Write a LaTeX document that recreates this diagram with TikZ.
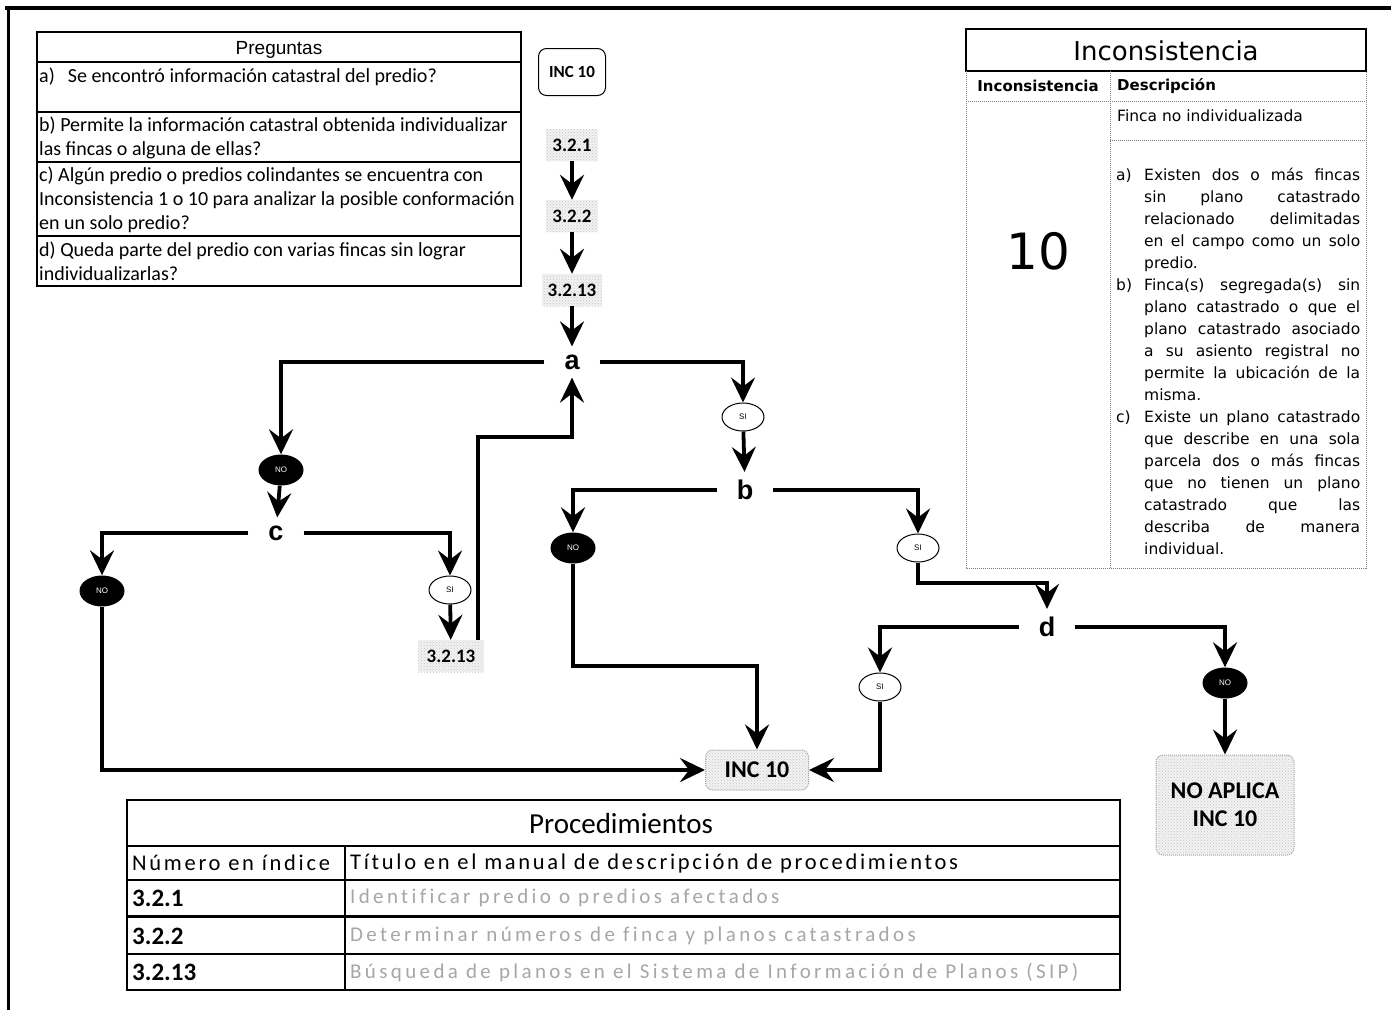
\documentclass[tikz,border=0pt]{standalone}
\usepackage{fontspec}
\setmainfont{Carlito}
\newfontfamily\verdana{DejaVu Sans}
\newfontfamily\arial{Liberation Sans}
\usetikzlibrary{arrows.meta,shapes.geometric,patterns}

\tikzset{
  flecha/.style={line width=3.8pt, -{Stealth[length=25pt,width=24pt,inset=9pt]}},
  pregunta/.style={font=\fontsize{27}{27}\selectfont\arial\bfseries, inner xsep=20pt, inner ysep=8pt},
  resno/.style={ellipse, fill=black, text=white, minimum width=45pt, minimum height=31pt,
    inner sep=0pt, font=\fontsize{8}{8}\selectfont\arial},
  ressi/.style={ellipse, draw, line width=1pt, fill=white, minimum width=42pt, minimum height=28pt,
    inner sep=0pt, font=\fontsize{8}{8}\selectfont\arial},
  grano/.style={preaction={fill=gray!10}, pattern=crosshatch dots, pattern color=gray!45},
  paso/.style={grano, minimum width=52pt, minimum height=32pt, inner sep=2pt,
    font=\fontsize{19}{19}\selectfont\bfseries},
  incbox/.style={grano, rounded corners=7pt, draw=gray!70, densely dotted, line width=1pt,
    minimum width=103pt, minimum height=40pt, font=\fontsize{24}{28}\selectfont\bfseries},
  texto/.style={font=\fontsize{20}{24}\selectfont, inner sep=0pt, align=left},
  linea/.style={line width=1.2pt},
  punteo/.style={gray, densely dotted, line width=1pt},
  desc/.style={font=\verdana\fontsize{15.5}{22}\selectfont, inner sep=0pt},
  cabeza/.style={font=\fontsize{22.5}{22.5}\selectfont\addfontfeatures{LetterSpace=12,Ligatures=NoCommon}, anchor=west, inner sep=0pt},
  gris/.style={font=\fontsize{21}{21}\selectfont\addfontfeatures{LetterSpace=16,Ligatures=NoCommon}, text=gray!70, anchor=west, inner sep=0pt}
}

\begin{document}
\begin{tikzpicture}[x=1pt,y=-1pt]
\useasboundingbox (0,0) rectangle (1391,1010);

% marco de la hoja
\draw[line width=4pt] (5,8) -- (1391,8);
\draw[line width=3pt] (8,8) -- (8,1010);

% tabla de preguntas
\draw[linea] (37,32) rectangle (521,286);
\foreach \y in {62,112,162,236}
  \draw[linea] (37,\y) -- (521,\y);
\node[font=\fontsize{19}{19}\selectfont\arial] (titpreg) at (279,50) {Preguntas};
\node[texto, anchor=west] (pa) at (39,77) {a)\hspace{13pt}Se encontró información catastral del predio?};
\node[texto, anchor=west] (pb) at (39,138) {b) Permite la información catastral obtenida individualizar\\las fincas o alguna de ellas?};
\node[texto, anchor=west] (pc) at (39,200) {c) Algún predio o predios colindantes se encuentra con\\Inconsistencia 1 o 10 para analizar la posible conformación\\en un solo predio?};
\node[texto, anchor=west] (pd) at (39,261) {d) Queda parte del predio con varias fincas sin lograr\\individualizarlas?};

% flujo de decisiones
\node[draw, line width=1pt, rounded corners=8pt, minimum width=67pt, minimum height=47pt,
  font=\fontsize{17}{17}\selectfont\bfseries] (inctop) at (572,72) {INC 10};
\node[paso] (p1) at (572,145) {3.2.1};
\node[paso] (p2) at (572,216) {3.2.2};
\node[paso, minimum width=60pt] (p3) at (572,290) {3.2.13};
\node[pregunta] (a) at (572,362) {a};
\node[resno] (noA) at (281,470) {NO};
\node[pregunta] (c) at (276,533) {c};
\node[resno] (noC) at (102,591) {NO};
\node[ressi] (siC) at (450,590) {SI};
\node[paso, minimum width=66pt] (p13) at (451,656) {3.2.13};
\coordinate (retorno) at (478,437);
\node[ressi] (siA) at (743,417) {SI};
\node[pregunta] (b) at (745,490) {b};
\node[resno] (noB) at (573,548) {NO};
\node[ressi] (siB) at (918,548) {SI};
\node[pregunta] (d) at (1047,627) {d};
\node[ressi] (siD) at (880,687) {SI};
\node[resno] (noD) at (1225,683) {NO};
\node[incbox] (inc) at (757,770) {INC 10};
\node[incbox, minimum width=138pt, minimum height=100pt, align=center] (noap) at (1225,805) {NO APLICA\\INC 10};

\draw[flecha] (p1) -- (p2);
\draw[flecha] (p2) -- (p3);
\draw[flecha] (p3) -- (a);
\draw[flecha] (a) -| (noA);
\draw[flecha] (noA) -- (c);
\draw[flecha] (c) -| (noC);
\draw[flecha] (c) -| (siC);
\draw[flecha] (siC) -- (p13);
\draw[flecha] (p13.north -| retorno) -- (retorno) -| (a);
\draw[flecha] (a) -| (siA);
\draw[flecha] (siA) -- (b);
\draw[flecha] (b) -| (noB);
\draw[flecha] (noB) -- (noB |- 0,666) -| (inc);
\draw[flecha] (b) -| (siB);
\draw[flecha] (siB) -- (siB |- 0,583) -| (d);
\draw[flecha] (d) -| (siD);
\draw[flecha] (d) -| (noD);
\draw[flecha] (noC) |- (inc);
\draw[flecha] (siD) |- (inc);
\draw[flecha] (noD) -- (noap);

% tabla de inconsistencia
\draw[line width=2pt] (966,29) rectangle (1366,71);
\draw[punteo] (966,71) -- (966,568) -- (1366,568) -- (1366,71);
\draw[punteo] (966,101) -- (1366,101);
\draw[punteo] (1110,71) -- (1110,568);
\draw[punteo] (1110,140) -- (1366,140);
\node[font=\verdana\fontsize{26}{26}\selectfont] (titinc) at (1166,51) {Inconsistencia};
\node[font=\verdana\bfseries\fontsize{15}{15}\selectfont] (colinc) at (1038,86) {Inconsistencia};
\node[font=\verdana\bfseries\fontsize{15}{15}\selectfont, anchor=west, inner sep=0pt] (coldesc) at (1117,86) {Descripción};
\node[font=\verdana\fontsize{50}{50}\selectfont] (num) at (1038,251) {10};
\node[desc, anchor=west] (finca) at (1117,116) {Finca no individualizada};
\node[desc, anchor=north west, text width=244pt, align=justify] (lista) at (1116,168) {%
\hangindent=28pt\hangafter=1\noindent\makebox[28pt][l]{a)}Existen dos o más fincas\linebreak
sin plano catastrado\linebreak relacionado delimitadas\linebreak en el campo como un solo\linebreak predio.\par
\hangindent=28pt\hangafter=1\noindent\makebox[28pt][l]{b)}Finca(s) segregada(s) sin\linebreak
plano catastrado o que el\linebreak plano catastrado asociado\linebreak a su asiento registral no\linebreak
permite la ubicación de la\linebreak misma.\par
\hangindent=28pt\hangafter=1\noindent\makebox[28pt][l]{c)}Existe un plano catastrado\linebreak
que describe en una sola\linebreak parcela dos o más fincas\linebreak que no tienen un plano\linebreak
catastrado que las\linebreak describa de manera\linebreak individual.\par};

% tabla de procedimientos
\draw[linea] (127,800) rectangle (1120,990);
\draw[linea] (127,846) -- (1120,846);
\draw[linea] (127,880) -- (1120,880);
\draw[line width=3pt] (127,916) -- (1120,916);
\draw[linea] (127,954) -- (1120,954);
\draw[linea] (345,846) -- (345,990);
\node[font=\fontsize{29}{29}\selectfont] (titproc) at (621,824) {Procedimientos};
\node[cabeza] (hnum) at (132,863) {Número en índice};
\node[cabeza] (htit) at (350,863) {Título en el manual de descripción de procedimientos};
\foreach \n/\t/\y in {r1/{3.2.1}/898, r2/{3.2.2}/936, r3/{3.2.13}/972}
  \node[font=\fontsize{25}{25}\selectfont\bfseries, anchor=west, inner sep=0pt] (\n) at (132,\y) {\t};
\node[gris] (t1) at (350,898) {Identificar predio o predios afectados};
\node[gris] (t2) at (350,936) {Determinar números de finca y planos catastrados};
\node[gris] (t3) at (350,972) {Búsqueda de planos en el Sistema de Información de Planos (SIP)};
\end{tikzpicture}
\end{document}
